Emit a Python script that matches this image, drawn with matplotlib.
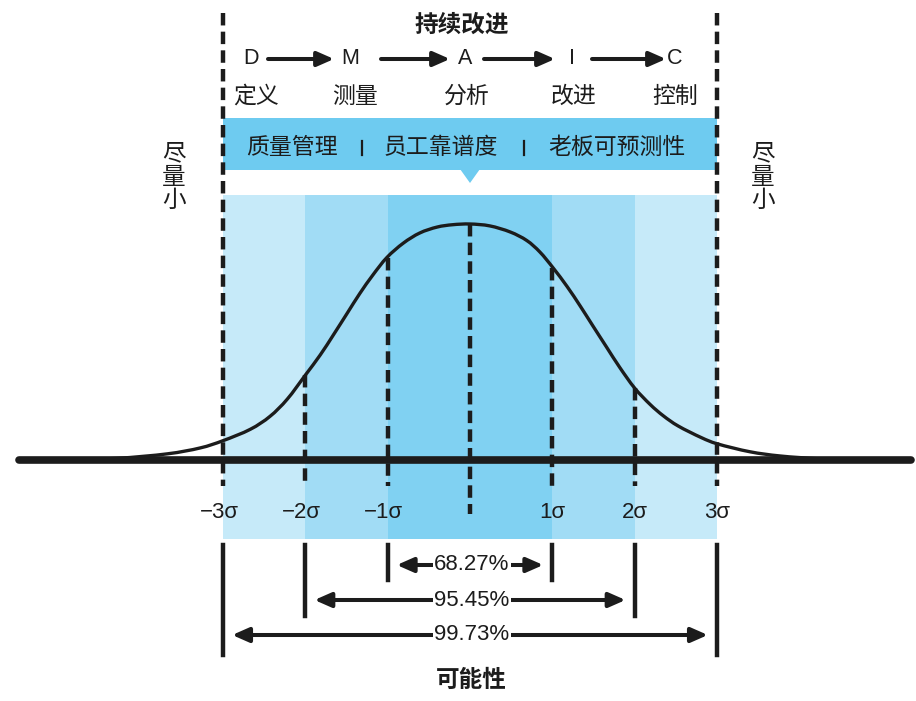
import numpy as np
import matplotlib.pyplot as plt
from matplotlib.patches import Rectangle, Polygon, PathPatch
from matplotlib.path import Path

# bell curve: x in sigma, height relative to the peak
curve_x = [-5.47, -4.86, -4.29, -3.68, -3.28, -3.00, -2.67, -2.43, -2.22, -2.00, -1.82, -1.66,
           -1.49, -1.34, -1.18, -1.01, -0.81, -0.61, -0.40, -0.21, 0.0, 0.24, 0.49, 0.69,
           0.85, 1.01, 1.18, 1.34, 1.49, 1.66, 1.82, 2.00, 2.19, 2.35, 2.53, 2.81, 3.01,
           3.40, 3.77, 4.25, 4.74, 5.33]
curve_h = [0.0, 0.002, 0.007, 0.026, 0.051, 0.082, 0.130, 0.185, 0.258, 0.360, 0.445, 0.530,
           0.623, 0.705, 0.784, 0.858, 0.919, 0.962, 0.987, 0.997, 1.0, 0.992, 0.966, 0.930,
           0.881, 0.814, 0.735, 0.652, 0.570, 0.478, 0.392, 0.305, 0.235, 0.187, 0.144, 0.095,
           0.068, 0.035, 0.017, 0.005, 0.0, 0.0]

sigmas = [-3, -2, -1, 0, 1, 2, 3]
sigma_tops = [None, 0.360, 0.858, 1.0, 0.814, 0.305, None]
sigma_labels = ['\u22123\u03c3', '\u22122\u03c3', '\u22121\u03c3', '', '1\u03c3', '2\u03c3', '3\u03c3']

band_edges = [(-3, -2), (-2, -1), (-1, 1), (1, 2), (2, 3)]
band_colors = ['#c6eaf9', '#a1dcf5', '#80d1f2', '#a1dcf5', '#c6eaf9']

ranges = [1, 2, 3]
range_labels = ['68.27%', '95.45%', '99.73%']

steps = ['D', 'M', 'A', 'I', 'C']
step_names = ['定义', '测量', '分析', '改进', '控制']
step_px = [251, 350, 465, 572, 675]
name_px = [256, 355, 467, 574, 675]

banner_items = ['质量管理', '员工靠谱度', '老板可预测性']
banner_px = [292, 441, 617]

# pixel -> data helpers (layout only)
X0, SIG, Y0, PEAK = 470.0, 82.3, 460.0, 236.0
def fx(p):
    return (p - X0) / SIG
def fy(p):
    return (Y0 - p) / PEAK

def smooth_path(xs, ys):
    # catmull-rom through the read points, drawn as cubic beziers
    pts = np.column_stack([xs, ys])
    verts = [pts[0]]
    codes = [Path.MOVETO]
    n = len(pts)
    for i in range(n - 1):
        p0 = pts[max(i - 1, 0)]
        p1, p2 = pts[i], pts[i + 1]
        p3 = pts[min(i + 2, n - 1)]
        verts += [p1 + (p2 - p0) / 6, p2 - (p3 - p1) / 6, p2]
        codes += [Path.CURVE4] * 3
    return Path(verts, codes)

CJK = ['Noto Sans CJK SC', 'DejaVu Sans']
LAT = ['Liberation Sans', 'DejaVu Sans']
INK = '#1c1c1c'
HEAD = '-|>,head_length=0.5,head_width=0.22'
HEAD2 = '<|-|>,head_length=0.5,head_width=0.22'

fig = plt.figure(figsize=(9.16, 7.01), dpi=100)
ax = fig.add_axes([0, 0, 1, 1])
ax.set_xlim(fx(0), fx(916))
ax.set_ylim(fy(701), fy(0))
ax.axis('off')

# sigma bands
for (a, b), c in zip(band_edges, band_colors):
    ax.add_patch(Rectangle((a, fy(539)), b - a, fy(195) - fy(539), color=c, lw=0, zorder=1))

# banner
ax.add_patch(Rectangle((-3, fy(170)), 6, fy(118) - fy(170), color='#6ecbf0', lw=0, zorder=1))
ax.add_patch(Polygon([[fx(460), fy(169)], [fx(480), fy(169)], [0, fy(183)]],
                     closed=True, color='#6ecbf0', lw=0, zorder=1))
for t, p in zip(banner_items, banner_px):
    ax.text(fx(p), fy(147), t, family=CJK, fontsize=16.5, color=INK, ha='center', va='center', zorder=3)
for p in [362, 524]:
    ax.plot([fx(p), fx(p)], [fy(141), fy(155)], color=INK, lw=1.6, zorder=3)

# curve and axis
ax.add_patch(PathPatch(smooth_path(curve_x, curve_h), fill=False, ec=INK, lw=2.4, zorder=4))
ax.plot([fx(19), fx(911)], [0, 0], color=INK, lw=5.5, solid_capstyle='round', zorder=5)

# dashed sigma lines
for s, top, lab in zip(sigmas, sigma_tops, sigma_labels):
    if top is None:
        y_top, y_bot = fy(13), fy(486)
    elif s == 0:
        y_top, y_bot = top, fy(514)
    else:
        y_top, y_bot = top, fy(486)
    ax.plot([s, s], [y_top, y_bot], color=INK, lw=3.2, dashes=(2.8, 1.4), zorder=4)
    if lab:
        off = -0.05 if s < 0 else 0.0
        ax.text(s + off, fy(513), lab, family=LAT, fontsize=16, color=INK, ha='center', va='center', zorder=4)

# range brackets and arrows
bar_top = fy(545)
for r, lab, yb, ya in zip(ranges, range_labels, [580, 616, 655], [565, 600, 635]):
    for s in (-r, r):
        ax.plot([s, s], [bar_top, fy(yb)], color=INK, lw=3.2, zorder=4)
    ax.annotate('', xy=(-r + 0.11, fy(ya)), xytext=(r - 0.11, fy(ya)),
                arrowprops=dict(arrowstyle=HEAD2, lw=2.9, color=INK, mutation_scale=20,
                                shrinkA=0, shrinkB=0), zorder=4)
    ax.text(fx(472), fy(ya), lab, family=LAT, fontsize=16, color=INK, ha='center', va='center',
            zorder=5, bbox=dict(boxstyle='square,pad=0.08', fc='white', ec='none'))

ax.text(fx(471), fy(680), '可能性', family=CJK, fontsize=17, fontweight='bold', color=INK,
        ha='center', va='center')

# DMAIC
ax.text(fx(462), fy(25), '持续改进', family=CJK, fontsize=17, fontweight='bold', color=INK,
        ha='center', va='center')
for st, p in zip(steps, step_px):
    ax.text(fx(p), fy(59), st, family=LAT, fontsize=15.5, color=INK, ha='center', va='center')
for nm, p in zip(step_names, name_px):
    ax.text(fx(p), fy(96), nm, family=CJK, fontsize=16.5, color=INK, ha='center', va='center')
for a, b in [(268, 334), (381, 450), (484, 555), (592, 666)]:
    ax.annotate('', xy=(fx(b), fy(59)), xytext=(fx(a), fy(59)),
                arrowprops=dict(arrowstyle=HEAD, lw=2.9, color=INK, mutation_scale=20,
                                shrinkA=0, shrinkB=0))

# side notes
for p in [174, 763]:
    ax.text(fx(p), fy(177), '尽\n量\n小', family=CJK, fontsize=17, color=INK,
            ha='center', va='center', linespacing=1.0)

fig.savefig('out.png', dpi=100)
